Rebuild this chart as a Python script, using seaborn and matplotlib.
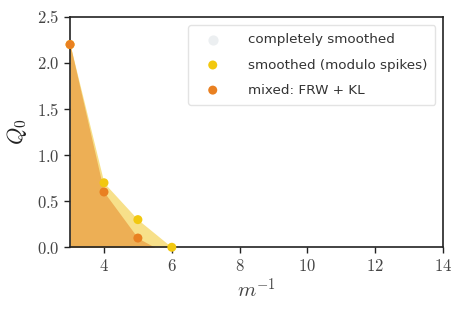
import matplotlib
matplotlib.use("Agg")
import matplotlib.pyplot as plt
import numpy as np
import pandas as pd
import seaborn as sns

# data
SMOOTH_X = [3, 4, 5, 6]
SMOOTH_Q = [2.2, 0.7, 0.3, 0.0]
MIXED_X = [3, 4, 5]
MIXED_Q = [2.2, 0.6, 0.1]
# outline of the shaded mixed region (reaches zero before m^-1 = 6)
MIXED_FILL_X = [3, 4, 5, 5.5]
MIXED_FILL_Q = [2.2, 0.6, 0.1, 0.0]

LABELS = ["completely smoothed", "smoothed (modulo spikes)", "mixed: FRW + KL"]
COLORS = ["#ECEFF1", "#F2C80F", "#E98021"]
FILL_YELLOW = "#F7E08A"
FILL_ORANGE = "#EDAF55"

sns.set_theme(style="white")
plt.rcParams.update({
    "font.family": ["DejaVu Serif"],
    "mathtext.fontset": "cm",
    "axes.edgecolor": "#222222",
    "axes.linewidth": 1.2,
})

fig, ax = plt.subplots(figsize=(4.64, 3.13), dpi=100)
fig.subplots_adjust(left=0.151, right=0.955, top=0.946, bottom=0.21)

ax.fill_between(SMOOTH_X, SMOOTH_Q, 0, color=FILL_YELLOW, lw=0, zorder=1)
ax.fill_between(MIXED_FILL_X, MIXED_FILL_Q, 0, color=FILL_ORANGE, lw=0, zorder=2)

smooth = pd.DataFrame({"x": SMOOTH_X, "q": SMOOTH_Q})
mixed = pd.DataFrame({"x": MIXED_X, "q": MIXED_Q})
ax.scatter([], [], color=COLORS[0], s=40, label=LABELS[0])
sns.scatterplot(data=smooth, x="x", y="q", color=COLORS[1], s=42, edgecolor="none",
                label=LABELS[1], ax=ax, zorder=4, clip_on=False)
sns.scatterplot(data=mixed, x="x", y="q", color=COLORS[2], s=42, edgecolor="none",
                label=LABELS[2], ax=ax, zorder=5, clip_on=False)

ax.set_xlim(3, 14)
ax.set_ylim(0, 2.5)
xt = [4, 6, 8, 10, 12, 14]
yt = [0.0, 0.5, 1.0, 1.5, 2.0, 2.5]
ax.set_xticks(xt, [f"${v}$" for v in xt], fontsize=12, color="#444444")
ax.set_yticks(yt, [f"${v:.1f}$" for v in yt], fontsize=12, color="#444444")
ax.tick_params(direction="out", length=4, width=1.0, color="#222222", bottom=True, left=True)
ax.set_xlabel(r"$m^{-1}$", fontsize=15, color="#444444", labelpad=2)
ax.set_ylabel(r"$Q_0$", fontsize=16, color="#222222", labelpad=6)

leg = ax.legend(loc="upper right", bbox_to_anchor=(0.99, 0.981), frameon=True, fancybox=True,
                prop={"family": "DejaVu Sans", "size": 9.7}, handletextpad=1.4,
                handlelength=2.4, labelspacing=0.9, borderpad=0.6, borderaxespad=0.3)
leg.get_frame().set_edgecolor("#DDDDDD")
for t in leg.get_texts():
    t.set_color("#333333")

fig.savefig("out.png", dpi=100)
